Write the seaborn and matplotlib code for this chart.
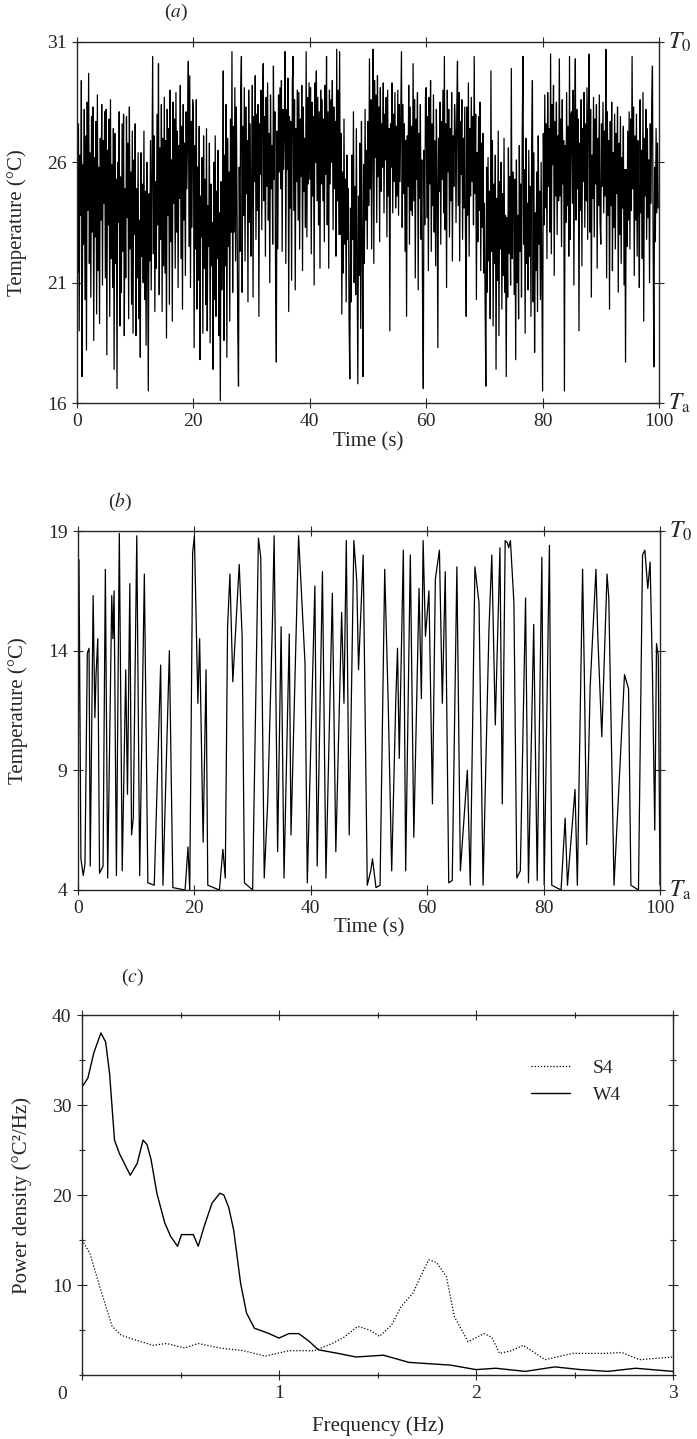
import numpy as np
import pandas as pd
import matplotlib
matplotlib.use("Agg")
import matplotlib.pyplot as plt
import seaborn as sns
from matplotlib.ticker import MultipleLocator
from matplotlib.lines import Line2D

sns.set_style("ticks")
plt.rcParams['font.family'] = ['Liberation Serif', 'DejaVu Serif']
plt.rcParams['mathtext.fontset'] = 'stix'
plt.rcParams['font.size'] = 14

# (a) temperature record, one row per 5 s
temp_a = [
    28.9, 21.4, 27.6, 19.0, 26.3, 23.8, 29.4, 17.1, 25.9, 22.6, 28.2, 20.3, 27.1, 18.2, 28.5, 24.0, 29.7, 21.8, 26.4, 20.4,
    27.9, 23.1, 28.3, 18.6, 26.2, 22.9, 27.7, 19.7, 28.8, 21.5, 25.8, 19.3, 27.0, 23.6, 28.4, 20.9, 26.9, 24.3, 28.1, 21.2,
    28.2, 18.0, 26.5, 23.4, 27.8, 19.6, 28.6, 22.0, 25.9, 20.8, 27.4, 17.4, 27.2, 21.8, 25.3, 16.6, 26.0, 23.5, 28.1, 19.2,
    25.4, 20.6, 27.6, 22.3, 28.0, 18.8, 24.9, 21.2, 27.9, 23.7, 26.8, 19.5, 28.3, 22.4, 25.6, 20.1, 27.3, 18.9, 26.1, 23.0,
    27.6, 18.8, 24.9, 21.2, 26.4, 19.5, 23.6, 17.9, 26.4, 22.1, 25.1, 21.0, 27.3, 20.3, 24.8, 18.4, 26.0, 22.6, 16.5, 24.7,
    21.9, 26.9, 20.7, 25.5, 30.4, 22.2, 27.1, 19.8, 25.2, 21.6, 28.0, 23.4, 30.1, 20.5, 26.6, 22.8, 28.4, 19.8, 27.0, 21.7,
    28.7, 21.4, 26.9, 18.7, 28.2, 23.8, 27.4, 20.1, 29.0, 22.7, 26.1, 19.4, 28.5, 24.3, 27.8, 21.6, 28.9, 23.1, 27.3, 20.8,
    26.7, 24.5, 29.2, 22.0, 27.5, 19.9, 28.4, 23.6, 26.8, 21.3, 28.1, 24.9, 27.2, 30.2, 22.5, 29.6, 20.8, 27.7, 23.3, 28.6,
    28.1, 18.3, 26.7, 22.4, 28.6, 19.9, 25.8, 21.1, 27.5, 17.8, 24.6, 22.9, 26.2, 18.9, 27.1, 21.6, 25.3, 20.1, 27.4, 19.0,
    24.2, 22.5, 26.8, 18.5, 25.1, 21.7, 23.5, 17.4, 26.0, 20.3, 27.1, 19.6, 24.8, 22.0, 26.5, 18.8, 23.9, 16.1, 25.2, 20.7,
    23.0, 29.8, 18.6, 26.3, 21.7, 28.4, 17.9, 27.0, 22.5, 25.6, 19.4, 27.8, 23.1, 30.6, 20.6, 27.5, 23.1, 29.1, 21.9, 28.3,
    24.2, 19.0, 16.7, 25.8, 22.3, 28.9, 30.4, 20.6, 27.5, 23.8, 29.1, 21.9, 28.3, 24.7, 26.9, 20.2, 29.0, 23.5, 27.6, 22.1,
    24.7, 29.2, 20.4, 27.9, 25.2, 29.6, 22.8, 28.0, 24.0, 28.4, 19.6, 27.6, 25.5, 29.0, 23.2, 28.6, 30.1, 24.4, 27.9, 22.1,
    28.7, 25.0, 29.3, 23.6, 27.2, 21.0, 28.8, 24.9, 26.7, 22.6, 30.0, 25.3, 28.1, 20.9, 17.7, 27.3, 22.4, 28.8, 25.6, 29.1,
    24.9, 29.4, 22.3, 28.2, 25.7, 27.5, 30.6, 21.8, 28.2, 25.7, 29.5, 19.8, 27.9, 24.1, 27.7, 21.1, 29.3, 30.4, 24.0, 28.6,
    20.7, 27.4, 25.2, 29.0, 23.6, 28.9, 22.4, 27.8, 25.4, 29.2, 21.5, 28.3, 24.8, 27.0, 23.3, 30.6, 22.9, 28.7, 25.1, 29.3,
    25.3, 29.1, 22.2, 28.5, 24.6, 27.9, 20.9, 29.3, 26.0, 29.8, 24.4, 28.7, 23.4, 28.1, 21.6, 29.0, 25.1, 28.6, 24.4, 27.8,
    22.7, 29.2, 25.5, 30.4, 23.4, 28.1, 21.6, 29.0, 25.1, 28.6, 26.0, 29.4, 23.2, 28.3, 24.9, 27.7, 22.1, 30.7, 24.4, 29.0,
    23.0, 30.6, 23.0, 27.2, 19.7, 25.6, 21.4, 27.8, 22.6, 25.3, 20.2, 26.3, 22.8, 24.9, 19.4, 17.0, 24.1, 20.2, 26.3, 22.8,
    28.1, 21.0, 25.0, 20.5, 27.4, 22.1, 16.8, 24.6, 21.3, 26.8, 19.1, 27.7, 23.0, 17.1, 25.9, 21.8, 28.2, 23.6, 26.5, 22.4,
    27.7, 24.2, 30.3, 24.9, 28.6, 22.4, 27.3, 30.7, 21.8, 29.4, 26.2, 28.8, 23.5, 29.6, 25.4, 28.3, 22.7, 29.1, 24.8, 27.6,
    25.8, 29.3, 23.9, 28.0, 26.1, 28.7, 22.9, 29.0, 24.6, 27.4, 19.0, 27.6, 25.8, 29.3, 23.9, 28.0, 25.2, 28.9, 24.1, 27.5,
    24.6, 29.0, 23.8, 28.4, 25.2, 27.9, 30.6, 23.3, 28.4, 24.7, 27.6, 22.3, 26.9, 19.6, 27.1, 25.0, 29.2, 22.6, 28.3, 24.0,
    27.5, 23.8, 30.1, 24.4, 28.6, 21.2, 27.8, 25.3, 28.9, 20.7, 27.2, 24.5, 28.4, 22.8, 26.1, 20.2, 16.6, 26.5, 23.4, 28.7,
    29.1, 23.7, 27.9, 21.5, 28.7, 25.1, 29.4, 22.3, 27.6, 24.2, 28.8, 23.1, 26.9, 21.7, 28.2, 25.0, 18.3, 27.0, 24.8, 28.5,
    22.6, 27.7, 25.3, 29.0, 23.9, 30.4, 23.2, 27.6, 20.8, 29.0, 25.6, 28.2, 22.9, 27.4, 24.4, 28.9, 21.9, 27.1, 25.0, 28.4,
    27.3, 23.5, 28.1, 30.2, 24.2, 28.9, 21.9, 27.7, 25.5, 28.6, 22.8, 27.0, 24.1, 28.3, 23.0, 19.6, 28.3, 23.8, 29.3, 22.1,
    27.4, 24.6, 28.7, 25.2, 27.9, 23.4, 30.4, 24.7, 28.0, 20.3, 26.4, 22.7, 27.9, 24.0, 28.5, 21.5, 26.8, 23.3, 27.2, 21.4,
    24.3, 20.1, 16.7, 25.8, 20.6, 26.2, 21.9, 24.8, 19.5, 29.8, 22.3, 26.9, 19.2, 25.1, 21.8, 26.3, 17.4, 24.5, 21.1, 27.3,
    18.8, 25.2, 22.4, 26.0, 19.9, 24.7, 21.3, 27.0, 20.6, 23.8, 17.1, 23.7, 20.4, 26.6, 22.2, 25.4, 20.9, 29.9, 22.0, 25.6,
    24.9, 20.5, 25.3, 17.8, 26.1, 21.0, 23.8, 19.5, 26.7, 22.3, 25.1, 20.4, 27.2, 30.4, 22.6, 25.7, 18.9, 27.0, 21.8, 24.3,
    20.7, 26.5, 22.1, 25.0, 19.6, 26.8, 29.4, 20.2, 26.4, 18.1, 23.9, 21.5, 25.6, 19.8, 27.1, 22.6, 24.8, 20.3, 26.0, 21.2,
    16.5, 27.2, 23.4, 28.8, 24.1, 27.6, 22.0, 28.9, 25.0, 27.4, 23.1, 30.5, 22.2, 28.4, 25.9, 29.2, 21.3, 27.7, 24.6, 28.5,
    23.0, 27.1, 24.4, 30.3, 24.6, 27.8, 22.5, 28.6, 25.1, 26.9, 16.5, 26.7, 23.5, 28.9, 24.2, 27.5, 22.1, 30.4, 22.8, 28.0,
    28.1, 24.3, 29.0, 20.9, 27.5, 30.3, 23.6, 28.2, 24.9, 27.8, 19.0, 26.8, 24.0, 28.6, 21.7, 27.4, 25.2, 28.9, 23.3, 27.6,
    24.4, 29.1, 22.8, 28.3, 30.5, 23.1, 28.2, 20.4, 26.3, 24.5, 28.7, 22.9, 27.8, 25.1, 28.4, 21.6, 27.0, 24.2, 28.8, 23.5,
    22.6, 27.6, 25.0, 28.5, 23.9, 27.3, 24.6, 30.7, 21.2, 28.1, 23.8, 26.9, 19.9, 27.7, 24.2, 28.5, 21.5, 26.4, 23.3, 28.0,
    22.4, 27.2, 24.7, 28.3, 20.6, 26.8, 23.0, 27.9, 21.8, 26.2, 24.1, 27.5, 20.9, 25.7, 17.7, 25.7, 22.5, 27.3, 23.6, 28.1,
    22.4, 27.8, 24.0, 30.4, 24.9, 28.3, 21.3, 27.1, 23.6, 28.0, 22.1, 26.9, 24.5, 20.8, 28.6, 23.9, 26.5, 22.0, 28.9, 19.4,
    27.0, 24.6, 28.2, 22.8, 27.4, 23.7, 26.1, 21.0, 27.6, 24.3, 28.5, 30.0, 22.2, 17.5, 25.8, 22.7, 27.4, 23.9, 26.8, 24.1,
]
time_a = np.arange(len(temp_a)) * (100.0 / len(temp_a))

# (b) temperature record, peaks and troughs
time_b = [0.0, 0.17, 0.5, 0.9, 1.2, 1.6, 1.9, 2.1, 2.6, 2.9, 3.1, 3.4, 3.7, 4.3, 4.7, 5.1, 5.8, 6.0, 6.2, 6.6,
          7.1, 7.6, 8.2, 8.5, 8.9, 9.2, 9.5, 10.1, 10.6, 11.4, 12.0, 13.1, 14.2, 14.6, 15.7, 16.3, 18.4, 18.9, 19.2, 19.7,
          20.0, 20.6, 20.9, 21.5, 22.0, 22.3, 24.3, 24.9, 25.3, 25.7, 26.1, 26.6, 27.7, 28.2, 28.6, 30.0, 31.0, 31.4, 32.0, 32.6,
          33.4, 33.7, 34.3, 34.9, 35.4, 36.3, 36.6, 37.9, 38.6, 39.0, 39.4, 40.7, 41.1, 42.0, 42.6, 43.7, 44.3, 45.3, 45.7, 46.1,
          46.6, 47.4, 47.9, 48.2, 49.0, 49.7, 50.3, 50.6, 51.2, 51.9, 52.7, 53.3, 53.9, 54.6, 54.9, 55.2, 55.9, 56.3, 57.1, 57.7,
          58.6, 59.0, 59.3, 59.7, 60.3, 60.9, 61.4, 62.1, 62.6, 63.1, 63.7, 64.3, 65.1, 65.7, 66.9, 67.4, 68.2, 68.9, 69.6, 70.6,
          71.1, 71.7, 72.5, 72.9, 73.4, 73.8, 74.0, 74.3, 74.9, 75.4, 76.0, 76.9, 77.4, 78.3, 78.9, 79.7, 80.1, 81.0, 81.4, 83.0,
          83.7, 84.1, 85.4, 85.8, 86.7, 87.0, 87.4, 88.0, 89.0, 89.3, 90.0, 90.9, 91.2, 92.1, 93.9, 94.6, 95.0, 96.3, 97.0, 97.4,
          97.9, 98.3, 98.7, 99.1, 99.4, 99.7, 100.0]
temp_b = [5.0, 17.8, 5.3, 4.6, 5.1, 13.9, 14.1, 5.0, 16.3, 11.2, 13.0, 14.5, 4.7, 5.0, 17.4, 4.5, 16.3, 14.5, 16.5, 4.6,
          18.9, 4.8, 13.2, 8.0, 16.8, 6.3, 7.0, 18.8, 4.6, 17.2, 4.3, 4.2, 13.4, 4.2, 14.0, 4.1, 4.0, 5.8, 4.0, 18.1,
          18.8, 11.8, 14.5, 6.0, 13.2, 4.2, 4.0, 5.7, 4.5, 15.0, 17.2, 12.7, 17.6, 14.6, 4.3, 4.0, 18.7, 17.9, 4.5, 7.7,
          15.1, 18.8, 5.6, 15.0, 4.5, 14.7, 6.3, 18.8, 15.4, 13.5, 4.3, 16.7, 5.0, 17.3, 4.5, 16.4, 5.6, 15.6, 11.8, 18.6,
          6.3, 18.6, 16.9, 13.2, 18.0, 4.2, 4.8, 5.3, 4.1, 4.2, 17.4, 11.8, 4.8, 11.9, 14.1, 9.5, 18.2, 4.8, 18.0, 6.2,
          16.6, 12.0, 18.6, 14.6, 16.5, 7.6, 17.0, 18.2, 11.8, 17.3, 4.3, 4.4, 17.5, 4.8, 9.0, 4.2, 17.5, 16.0, 4.2, 14.8,
          18.0, 10.9, 18.3, 7.6, 18.6, 18.5, 18.3, 18.6, 16.0, 4.5, 4.8, 16.2, 4.3, 15.1, 4.4, 17.9, 4.2, 18.4, 4.2, 4.0,
          7.0, 4.2, 8.2, 4.2, 17.4, 13.0, 5.9, 12.5, 17.4, 14.7, 10.4, 17.2, 16.2, 4.2, 13.0, 12.4, 4.2, 4.0, 18.0, 18.2,
          16.6, 17.7, 13.1, 6.5, 14.3, 13.8, 4.2]

# (c) power spectra
freq_w4 = [0.0, 0.03, 0.06, 0.096, 0.12, 0.14, 0.165, 0.19, 0.245, 0.28, 0.31, 0.33, 0.35, 0.38, 0.42, 0.45,
           0.485, 0.505, 0.565, 0.59, 0.62, 0.66, 0.70, 0.72, 0.745, 0.77, 0.805, 0.835, 0.875, 0.95, 1.0, 1.05,
           1.10, 1.15, 1.2, 1.3, 1.39, 1.53, 1.66, 1.87, 2.0, 2.1, 2.25, 2.4, 2.53, 2.67, 2.81, 3.0]
psd_w4 = [32.0, 33.0, 35.8, 38.0, 37.0, 33.5, 26.1, 24.6, 22.2, 23.5, 26.1, 25.6, 24.0, 20.2, 16.9, 15.4,
          14.3, 15.6, 15.6, 14.3, 16.5, 19.1, 20.2, 20.0, 18.6, 16.1, 10.2, 6.9, 5.2, 4.6, 4.1, 4.6,
          4.6, 3.8, 2.8, 2.4, 2.0, 2.2, 1.4, 1.1, 0.6, 0.75, 0.4, 0.9, 0.6, 0.4, 0.75, 0.4]
freq_s4 = [0.0, 0.04, 0.096, 0.153, 0.2, 0.27, 0.36, 0.43, 0.52, 0.59, 0.70, 0.82, 0.93, 1.05, 1.18, 1.27,
           1.33, 1.40, 1.46, 1.51, 1.57, 1.62, 1.68, 1.72, 1.76, 1.80, 1.85, 1.89, 1.96, 2.04, 2.08, 2.12,
           2.18, 2.24, 2.35, 2.49, 2.65, 2.74, 2.83, 3.0]
psd_s4 = [15.0, 13.5, 9.4, 5.4, 4.4, 3.9, 3.3, 3.5, 3.0, 3.5, 3.0, 2.7, 2.1, 2.7, 2.7, 3.5,
          4.2, 5.4, 5.0, 4.3, 5.5, 7.6, 9.1, 11.0, 12.8, 12.5, 10.9, 6.5, 3.7, 4.6, 4.2, 2.4,
          2.7, 3.3, 1.7, 2.4, 2.4, 2.5, 1.7, 2.0]

W, H = 697, 1439
fig = plt.figure(figsize=(W / 100, H / 100), dpi=100)


def box(left, top, right, bottom):
    return [left / W, 1 - bottom / H, (right - left) / W, (bottom - top) / H]


def style(ax):
    for s in ax.spines.values():
        s.set_linewidth(1.0)
    ax.tick_params(which='both', direction='inout', top=True, right=True,
                   labelsize=14, width=0.8, pad=4)
    ax.tick_params(which='major', length=7)
    ax.tick_params(which='minor', length=5)


# panel (a)
ax_a = fig.add_axes(box(77, 42, 659, 403))
sns.lineplot(x=time_a, y=temp_a, ax=ax_a, color='black', lw=0.9, estimator=None)
ax_a.set_xlim(0, 100)
ax_a.set_ylim(16, 31)
ax_a.set_xticks([0, 20, 40, 60, 80, 100])
ax_a.set_yticks([16, 21, 26, 31])
ax_a.set_xlabel('Time (s)', fontsize=15)
ax_a.set_ylabel('Temperature (°C)', fontsize=15)
ax_a.yaxis.set_label_coords(-0.086, 0.5)
ax_a.xaxis.set_label_coords(0.5, -0.08)
style(ax_a)
ax_a.text(0.17, 1.083, r'($\it{a}$)', transform=ax_a.transAxes, ha='center', va='center', fontsize=14)
ax_a.text(1.015, 1.0, r'$T_0$', transform=ax_a.transAxes, ha='left', va='center', fontsize=17)
ax_a.text(1.015, 0.0, r'$T_{\rm a}$', transform=ax_a.transAxes, ha='left', va='center', fontsize=17)

# panel (b)
ax_b = fig.add_axes(box(78, 531, 660, 890))
sns.lineplot(x=time_b, y=temp_b, ax=ax_b, color='black', lw=0.9, estimator=None, sort=False)
ax_b.set_xlim(0, 100)
ax_b.set_ylim(4, 19)
ax_b.set_xticks([0, 20, 40, 60, 80, 100])
ax_b.set_yticks([4, 9, 14, 19])
ax_b.set_xlabel('Time (s)', fontsize=15)
ax_b.set_ylabel('Temperature (°C)', fontsize=15)
ax_b.yaxis.set_label_coords(-0.086, 0.5)
ax_b.xaxis.set_label_coords(0.5, -0.08)
style(ax_b)
ax_b.text(0.072, 1.08, r'($\it{b}$)', transform=ax_b.transAxes, ha='center', va='center', fontsize=14)
ax_b.text(1.015, 1.0, r'$T_0$', transform=ax_b.transAxes, ha='left', va='center', fontsize=17)
ax_b.text(1.015, 0.0, r'$T_{\rm a}$', transform=ax_b.transAxes, ha='left', va='center', fontsize=17)

# panel (c)
ax_c = fig.add_axes(box(82, 1015, 673, 1375))
sns.lineplot(x=freq_s4, y=psd_s4, ax=ax_c, color='black', lw=0.9, ls=(0, (1, 1.5)), estimator=None)
sns.lineplot(x=freq_w4, y=psd_w4, ax=ax_c, color='black', lw=1.0, estimator=None)
ax_c.set_xlim(0, 3)
ax_c.set_ylim(0, 40)
ax_c.set_xticks([0, 1, 2, 3])
ax_c.set_xticklabels(['', '1', '2', '3'])
ax_c.set_yticks([10, 20, 30, 40])
ax_c.xaxis.set_minor_locator(MultipleLocator(0.5))
ax_c.yaxis.set_minor_locator(MultipleLocator(5))
ax_c.set_xlabel('Frequency (Hz)', fontsize=15)
ax_c.set_ylabel('Power density (°C²/Hz)', fontsize=15)
ax_c.yaxis.set_label_coords(-0.085, 0.5)
ax_c.xaxis.set_label_coords(0.5, -0.115)
style(ax_c)
ax_c.text(-0.034, -0.055, '0', transform=ax_c.transAxes, ha='center', va='center', fontsize=14)
ax_c.text(0.085, 1.103, r'($\it{c}$)', transform=ax_c.transAxes, ha='center', va='center', fontsize=14)
handles = [Line2D([], [], color='black', lw=0.9, ls=(0, (1, 1.5))),
           Line2D([], [], color='black', lw=1.0)]
ax_c.legend(handles, ['S4', 'W4'], frameon=False, loc='center left',
            bbox_to_anchor=(0.73, 0.815), handlelength=2.0, handletextpad=1.2,
            labelspacing=0.5, fontsize=14)

fig.savefig('out.png', dpi=100)
